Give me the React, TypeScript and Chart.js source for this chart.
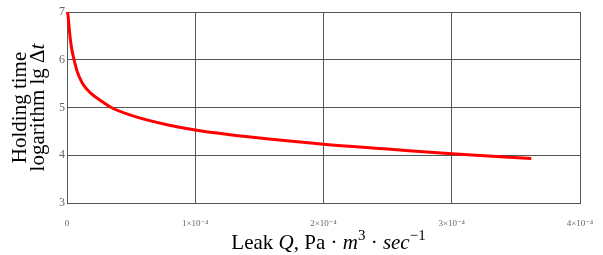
import React, { useEffect, useRef } from "react";
import { Chart, registerables } from "chart.js";

Chart.register(...registerables);

// Leak Q (Pa·m³·s⁻¹) and holding-time logarithm lg Δt
const leakQ = [0.002e-4, 0.008e-4, 0.02e-4, 0.036e-4, 0.055e-4, 0.08e-4, 0.12e-4, 0.185e-4, 0.276e-4, 0.345e-4, 0.52e-4, 0.78e-4, 1.0e-4, 1.43e-4, 2.0e-4, 2.5e-4, 3.0e-4, 3.62e-4];
const holdLog = [7.0, 6.93, 6.58, 6.24, 6.0, 5.75, 5.51, 5.3, 5.12, 5.0, 4.82, 4.64, 4.53, 4.38, 4.23, 4.13, 4.03, 3.93];

const xTickLabels = ["0", "1×10⁻⁴", "2×10⁻⁴", "3×10⁻⁴", "4×10⁻⁴"];
const yTickLabels = ["3", "4", "5", "6", "7"];

const xTitleSegments = [
  { t: "Leak ", style: "normal", sup: false },
  { t: "Q", style: "italic", sup: false },
  { t: ", Pa · ", style: "normal", sup: false },
  { t: "m", style: "italic", sup: false },
  { t: "3", style: "normal", sup: true },
  { t: " · ", style: "normal", sup: false },
  { t: "sec", style: "italic", sup: false },
  { t: "−1", style: "normal", sup: true },
];
const yTitleLine1 = "Holding time";
const yTitleLine2a = "logarithm lg Δ";
const yTitleLine2b = "t";

const FONT = "'Liberation Serif', 'DejaVu Serif', serif";

const titlesPlugin = {
  id: "titles",
  afterDraw(chart: any) {
    const ctx = chart.ctx as CanvasRenderingContext2D;
    const area = chart.chartArea;
    ctx.save();
    ctx.fillStyle = "#000";
    ctx.textBaseline = "alphabetic";
    ctx.textAlign = "left";
    const size = 21;
    const supSize = 15;
    const fontFor = (s: any) => `${s.style === "italic" ? "italic " : ""}${s.sup ? supSize : size}px ${FONT}`;
    let total = 0;
    for (const s of xTitleSegments) {
      ctx.font = fontFor(s);
      total += ctx.measureText(s.t).width;
    }
    let x = 328.5 - total / 2;
    const base = 249;
    for (const s of xTitleSegments) {
      ctx.font = fontFor(s);
      ctx.fillText(s.t, x, s.sup ? base - 9 : base);
      x += ctx.measureText(s.t).width;
    }
    // y title
    const cy = (area.top + area.bottom) / 2;
    ctx.save();
    ctx.translate(26, cy);
    ctx.rotate(-Math.PI / 2);
    ctx.textAlign = "center";
    ctx.font = `${size}px ${FONT}`;
    ctx.fillText(yTitleLine1, 0, 0);
    ctx.restore();
    ctx.save();
    ctx.translate(44, cy);
    ctx.rotate(-Math.PI / 2);
    ctx.font = `${size}px ${FONT}`;
    const wa = ctx.measureText(yTitleLine2a).width;
    ctx.font = `italic ${size}px ${FONT}`;
    const wb = ctx.measureText(yTitleLine2b).width;
    const start = -(wa + wb) / 2;
    ctx.textAlign = "left";
    ctx.font = `${size}px ${FONT}`;
    ctx.fillText(yTitleLine2a, start, 0);
    ctx.font = `italic ${size}px ${FONT}`;
    ctx.fillText(yTitleLine2b, start + wa, 0);
    ctx.restore();
    ctx.restore();
  },
};

export default function App() {
  const ref = useRef<HTMLCanvasElement>(null);
  useEffect(() => {
    if (!ref.current) return;
    const chart = new Chart(ref.current, {
      type: "scatter",
      data: {
        datasets: [
          {
            data: leakQ.map((q, i) => ({ x: q, y: holdLog[i] })),
            showLine: true,
            borderColor: "#ff0000",
            borderWidth: 3,
            pointRadius: 0,
            cubicInterpolationMode: "monotone",
            clip: 4,
          } as any,
        ],
      },
      options: {
        animation: false,
        responsive: false,
        layout: { padding: { top: 12, right: 23, left: 0, bottom: 0 } },
        plugins: { legend: { display: false }, tooltip: { enabled: false } },
        scales: {
          x: {
            type: "linear",
            min: 0,
            max: 4e-4,
            afterFit: (s: any) => {
              s.height = 52;
              s.paddingLeft = 0;
              s.paddingRight = 0;
            },
            afterBuildTicks: (s: any) => {
              s.ticks = xTickLabels.map((_, i) => ({ value: i * 1e-4 }));
            },
            ticks: {
              callback: (_v: any, i: number) => xTickLabels[i],
              color: "#666",
              font: { family: FONT, size: 9 },
              padding: 15,
              maxRotation: 0,
              autoSkip: false,
            },
            grid: { color: "#555", lineWidth: 1, drawTicks: false },
            border: { color: "#555", width: 1 },
          },
          y: {
            min: 3,
            max: 7,
            afterFit: (s: any) => {
              s.width = 67;
              s.paddingTop = 0;
              s.paddingBottom = 0;
            },
            afterBuildTicks: (s: any) => {
              s.ticks = yTickLabels.map((_, i) => ({ value: 3 + i }));
            },
            ticks: {
              callback: (_v: any, i: number) => yTickLabels[i],
              color: "#666",
              font: { family: FONT, size: 12 },
              padding: 2,
              autoSkip: false,
            },
            grid: { color: "#555", lineWidth: 1, drawTicks: false },
            border: { color: "#555", width: 1 },
          },
        },
      },
      plugins: [titlesPlugin],
    });
    return () => chart.destroy();
  }, []);
  return (
    <div style={{ position: "fixed", left: 0, top: 0, width: 603, height: 255, background: "#fff" }}>
      <canvas ref={ref} width={603} height={255} style={{ width: 603, height: 255 }} />
    </div>
  );
}
